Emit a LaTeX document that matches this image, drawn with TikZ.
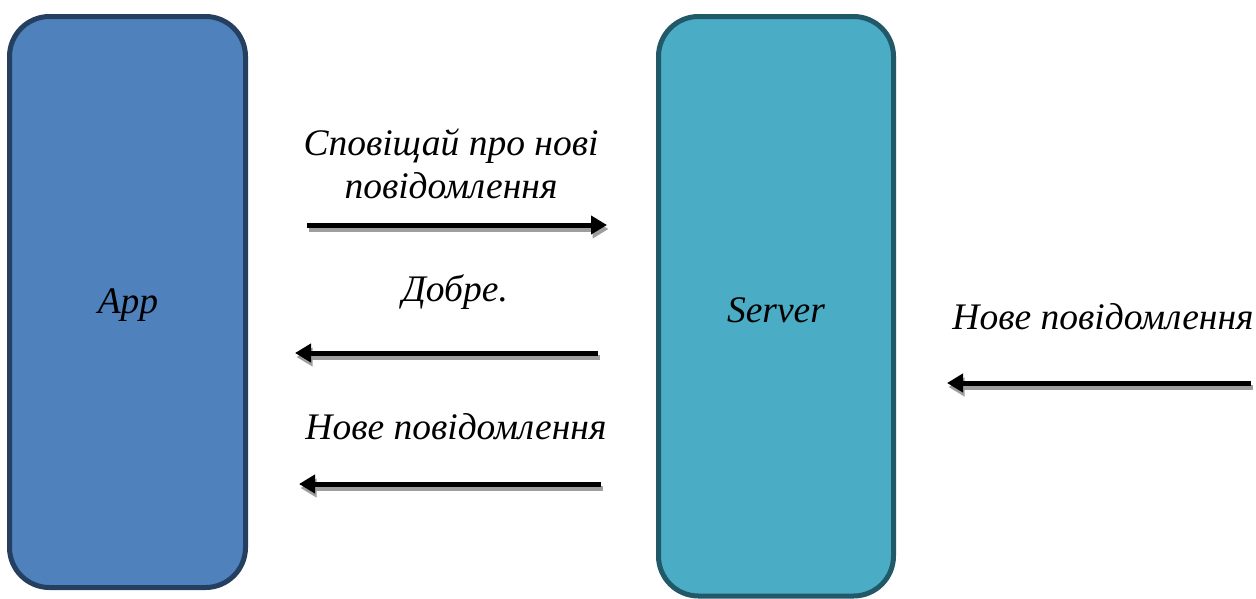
\documentclass[tikz,border=0pt]{standalone}
\usepackage{fontspec}
\setmainfont{Liberation Serif}
\usetikzlibrary{arrows.meta}
\definecolor{appfill}{HTML}{4F81BD}
\definecolor{appdraw}{HTML}{243F60}
\definecolor{srvfill}{HTML}{4BACC6}
\definecolor{srvdraw}{HTML}{215968}
\tikzset{
  box/.style={rounded corners=40pt, line width=5pt, inner sep=0pt},
  lbl/.style={font=\fontsize{37.5}{43}\selectfont\itshape, align=center, inner sep=0pt},
  msg/.style={line width=5pt, -{Triangle[length=16pt,width=18pt]}, black},
  msgshadow/.style={line width=5pt, -{Triangle[length=16pt,width=18pt]}, black!38, transform canvas={shift={(1.5pt,-4pt)}}}
}
\begin{document}
\begin{tikzpicture}[x=1pt,y=-1pt]
\useasboundingbox (0,0) rectangle (1256,598);
\draw[box, fill=appfill, draw=appdraw] (9.5,16.5) rectangle (245.5,587.5);
\draw[box, fill=srvfill, draw=srvdraw] (658.5,16.5) rectangle (893.5,596);
\node[lbl] (app) at (128,305) {App};
\node[lbl] (srv) at (776,310) {Server};
\node[lbl] (t1) at (451,164) {Сповіщай про нові\\повідомлення};
\node[lbl] (t2) at (455,292) {Добре.};
\node[lbl] (t3) at (456,427) {Нове повідомлення};
\node[lbl] (t4) at (1103,317) {Нове повідомлення};
\coordinate (a1s) at (307,225); \coordinate (a1e) at (607,225);
\coordinate (a2s) at (598,353); \coordinate (a2e) at (295,353);
\coordinate (a3s) at (601,484); \coordinate (a3e) at (299,484);
\coordinate (a4s) at (1251,383); \coordinate (a4e) at (947,383);
\foreach \s/\e in {a1s/a1e,a2s/a2e,a3s/a3e,a4s/a4e}{
  \draw[msgshadow] (\s) -- (\e);
  \draw[msg] (\s) -- (\e);
}
\end{tikzpicture}
\end{document}
